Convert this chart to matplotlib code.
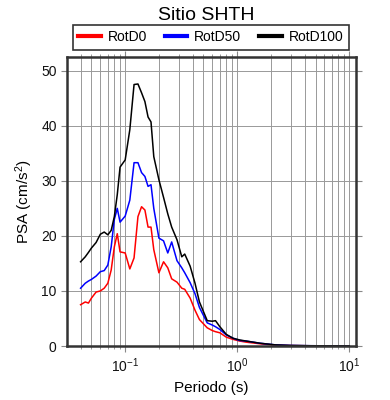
import matplotlib
matplotlib.use("Agg")
import matplotlib.pyplot as plt
from matplotlib.ticker import LogLocator, NullFormatter, MultipleLocator

plt.rcParams['font.family'] = ['Liberation Sans', 'DejaVu Sans']
plt.rcParams['mathtext.fontset'] = 'custom'
plt.rcParams['mathtext.rm'] = 'Liberation Sans'
plt.rcParams['mathtext.it'] = 'Liberation Sans:italic'

periods = [0.040, 0.044, 0.047, 0.050, 0.055, 0.060, 0.065, 0.070, 0.075, 0.080,
           0.085, 0.090, 0.100, 0.11, 0.12, 0.13, 0.14, 0.15, 0.16, 0.17,
           0.18, 0.20, 0.22, 0.24, 0.26, 0.29, 0.32, 0.34, 0.38, 0.42,
           0.46, 0.54, 0.60, 0.64, 0.70, 0.80, 0.92, 1.05, 1.2, 1.6,
           2.2, 3.0, 4.5, 6.8, 10.0]

rotd0 = [7.5, 8.0, 7.8, 8.7, 9.8, 10.0, 10.5, 11.4, 13.8, 18.0,
         20.4, 17.1, 16.9, 14.0, 16.0, 23.5, 25.3, 24.7, 21.6, 21.6,
         17.5, 13.3, 15.3, 14.2, 12.2, 11.6, 10.5, 10.3, 8.7, 6.5,
         4.8, 3.3, 2.8, 2.6, 2.4, 1.6, 1.2, 0.9, 0.7, 0.4,
         0.15, 0.08, 0.04, 0.02, 0.01]

rotd50 = [10.5, 11.4, 11.8, 12.1, 12.7, 13.5, 13.7, 14.7, 18.0, 23.0,
          25.0, 22.5, 23.6, 26.5, 33.3, 33.3, 31.5, 30.8, 29.0, 29.3,
          25.0, 19.6, 19.1, 16.9, 18.9, 15.5, 14.2, 13.3, 11.5, 9.5,
          7.0, 4.2, 3.8, 3.5, 3.0, 2.0, 1.4, 1.0, 0.9, 0.5,
          0.2, 0.1, 0.05, 0.03, 0.02]

rotd100 = [15.3, 16.2, 17.0, 17.8, 18.8, 20.3, 20.7, 20.2, 21.0, 23.5,
           27.5, 32.5, 33.8, 39.3, 47.5, 47.6, 46.0, 44.4, 41.6, 40.7,
           34.4, 30.2, 27.0, 24.0, 21.6, 19.3, 16.2, 16.7, 14.5, 11.4,
           8.0, 4.6, 4.5, 4.6, 3.5, 2.1, 1.4, 1.1, 0.9, 0.5,
           0.2, 0.1, 0.05, 0.03, 0.02]

labels = ["RotD0", "RotD50", "RotD100"]
colors = ["#ff0000", "#0000ff", "#000000"]

fig = plt.figure(figsize=(3.9, 4.0), dpi=100)
ax = fig.add_axes([0.172, 0.135, 0.741, 0.7225])

for vals, lab, col in zip([rotd0, rotd50, rotd100], labels, colors):
    ax.plot(periods, vals, color=col, lw=1.1, label=lab)

ax.set_xscale('log')
ax.set_xlim(0.0303, 11.5)
ax.set_ylim(0, 52.5)
ax.xaxis.set_major_locator(LogLocator(base=10, numticks=10))
ax.xaxis.set_minor_locator(LogLocator(base=10, subs=range(2, 10), numticks=20))
ax.xaxis.set_minor_formatter(NullFormatter())
ax.yaxis.set_major_locator(MultipleLocator(10))

ax.grid(True, which='both', axis='x', color='#999999', lw=0.7)
ax.grid(True, which='major', axis='y', color='#999999', lw=0.7)
ax.set_axisbelow(True)

for s in ax.spines.values():
    s.set_color('#333333')
    s.set_linewidth(1.8)

ax.tick_params(which='both', direction='out', top=True, right=True,
               color='#888888', labelsize=10, labelcolor='#111111')
ax.tick_params(which='major', length=4, width=0.8)
ax.tick_params(which='minor', length=2.5, width=0.6)

ax.set_xlabel("Periodo (s)", fontsize=11)
ax.set_ylabel("PSA (cm/s$^2$)", fontsize=11)

fig.text(0.53, 0.962, "Sitio SHTH", ha='center', va='center', fontsize=14)

leg = ax.legend(ncol=3, loc='lower left', bbox_to_anchor=(0.02, 1.025, 0.955, 0.075),
                mode='expand', frameon=True, fancybox=False, fontsize=10,
                handlelength=1.6, handletextpad=0.5, borderaxespad=0.0,
                borderpad=0.4, columnspacing=1.0)
leg.get_frame().set_edgecolor('black')
leg.get_frame().set_linewidth(1.2)
for line in leg.get_lines():
    line.set_linewidth(3)

fig.savefig("out.png", dpi=100)
